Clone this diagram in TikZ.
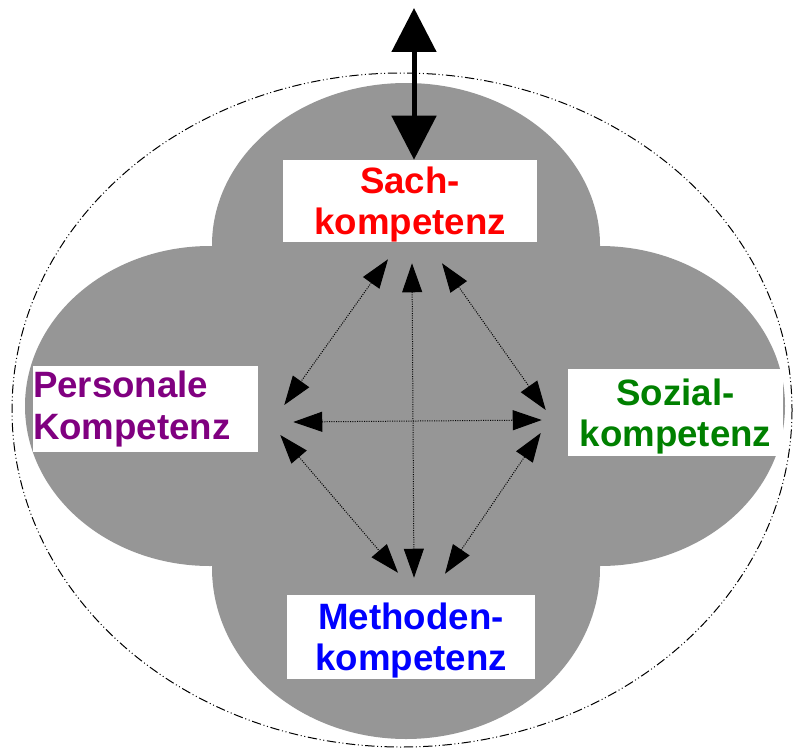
\documentclass[tikz,border=0pt]{standalone}
\usepackage{fontspec}
\setmainfont{Liberation Sans}
\usepackage{tikz}
\usetikzlibrary{arrows.meta}
\definecolor{lobegray}{RGB}{150,150,150}
\definecolor{sachred}{RGB}{255,0,0}
\definecolor{perspurple}{RGB}{128,0,128}
\definecolor{sozgreen}{RGB}{0,128,0}
\definecolor{methblue}{RGB}{0,0,255}

\begin{document}
\begin{tikzpicture}[
			x=0.75pt, y=-0.75pt,
			box/.style={rectangle, fill=white, inner sep=0pt, align=center, text depth=0pt, font=\fontsize{27.5}{31}\selectfont\bfseries},
			link/.style={densely dotted, line width=0.75pt, {Triangle[length=21.75pt, width=15pt]}-{Triangle[length=21.75pt, width=15pt]}},
			bigarrow/.style={line width=3.75pt, {Triangle[length=33pt, width=33pt]}-{Triangle[length=33pt, width=33pt]}}
			]
			\useasboundingbox (0,0) rectangle (795,749);
			% outer ring and the four lobes
			\draw[line width=0.75pt, dash pattern=on 7pt off 2pt on 0.75pt off 2pt on 0.75pt off 2pt] (402,410) ellipse [x radius=390, y radius=337];
			\fill[lobegray] (406,245) ellipse [x radius=194, y radius=162];
			\fill[lobegray] (406,568) ellipse [x radius=194, y radius=171];
			\fill[lobegray] (210,406) ellipse [x radius=185, y radius=160];
			\fill[lobegray] (600,406) ellipse [x radius=185, y radius=160];
			\fill[lobegray] (212,247) rectangle (598,566);
			% boxes
			\node[box, text=sachred, minimum width=190.5pt, minimum height=61.5pt] (sach) at (410,201) {Sach-\\kompetenz};
			\node[box, text=perspurple, text depth=, text width=168.75pt, minimum height=64.5pt, align=left] (personale) at (145.5,409) {Personale\\Kompetenz};
			\node[box, text=sozgreen, minimum width=161.25pt, minimum height=65.25pt] (sozial) at (675.5,412.5) {Sozial-\\kompetenz};
			\node[box, text=methblue, minimum width=186pt, minimum height=63pt] (methoden) at (411,637) {Methoden-\\kompetenz};
			\coordinate (sky) at (414,8);
			\draw[bigarrow] (sky) -- (sky |- sach.north);
			\draw[link] ([shift={(-22,17)}]sach.south) -- ([shift={(26,-4)}]personale.east);
			\draw[link] ([shift={(2,21)}]sach.south) -- ([shift={(3,-17)}]methoden.north);
			\draw[link] ([shift={(32,21)}]sach.south) -- ([shift={(-22,-2.5)}]sozial.west);
			\draw[link] ([shift={(35,13)}]personale.east) -- ([shift={(-26,7.5)}]sozial.west);
			\draw[link] ([shift={(22,26)}]personale.east) -- ([shift={(-13,-22)}]methoden.north);
			\draw[link] ([shift={(-27,20.5)}]sozial.west) -- ([shift={(34,-21)}]methoden.north);
		\end{tikzpicture}
\end{document}
